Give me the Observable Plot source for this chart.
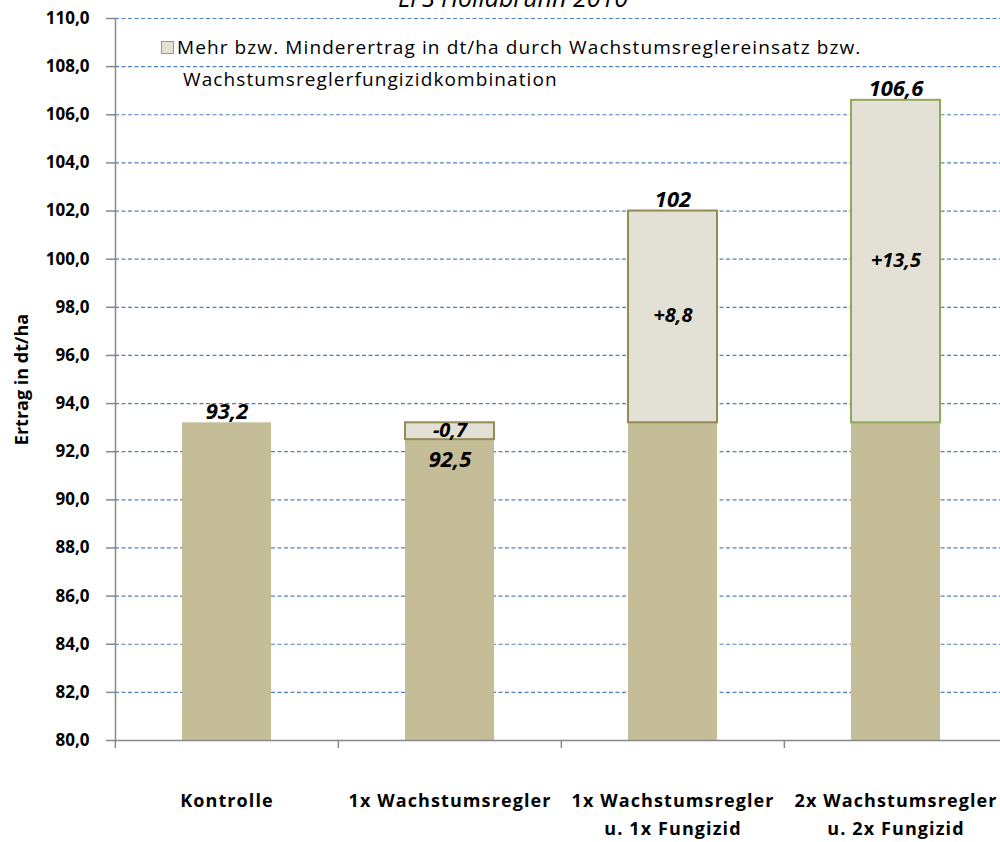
<!DOCTYPE html>
<html>
<head>
<meta charset="utf-8">
<script src="https://cdn.jsdelivr.net/npm/d3@7"></script>
<script src="https://cdn.jsdelivr.net/npm/@observablehq/plot@0.6"></script>
<style>
  html, body { margin: 0; padding: 0; background: #fff; }
  #wrap { position: relative; width: 1000px; height: 842px; overflow: hidden; }
  #title { position: absolute; left: 0; width: 1026px; top: -20px; text-align: center; font: italic 25px "Open Sans", sans-serif; color: #000; }
  .leg { position: absolute; font: 19px "Open Sans", sans-serif; letter-spacing: 1.1px; color: #000; white-space: nowrap; }
  .sw { display: inline-block; width: 11px; height: 11px; background: #E3E1D5; border: 1.5px solid #7F9CC8; vertical-align: 0px; margin-right: 3px; }
  #chart svg g[aria-label="x-axis tick label"] text { letter-spacing: 1.1px; }
</style>
</head>
<body>
<div id="wrap">
  <div id="chart"></div>
  <div id="title"></div>
  <div class="leg" id="leg1" style="left:161px; top:34px;"></div>
  <div class="leg" id="leg2" style="left:183px; top:66px;"></div>
</div>
<script>
const titleText = "LFS Hollabrunn 2010";
const legendLine1 = "Mehr bzw. Minderertrag in dt/ha durch Wachstumsreglereinsatz bzw.";
const legendLine2 = "Wachstumsreglerfungizidkombination";
const yLabel = "Ertrag in dt/ha";

const categories = [
  "Kontrolle",
  "1x Wachstumsregler",
  "1x Wachstumsregler\nu. 1x Fungizid",
  "2x Wachstumsregler\nu. 2x Fungizid"
];
const ertrag = [93.2, 92.5, 102, 106.6];
const kontrolle = 93.2;
const differenz = [null, -0.7, 8.8, 13.5];
const ertragLabels = ["93,2", "92,5", "102", "106,6"];
const differenzLabels = [null, "-0,7", "+8,8", "+13,5"];
const yTicks = d3.range(80, 110.001, 2);
const borderColors = [null, "#948A54", "#948A54", "#8FA85A"];

const rows = categories.map((c, i) => ({
  cat: c,
  ertrag: ertrag[i],
  base: Math.min(ertrag[i], kontrolle),
  diff: differenz[i],
  lo: Math.min(ertrag[i], kontrolle),
  hi: Math.max(ertrag[i], kontrolle),
  mid: (ertrag[i] + kontrolle) / 2,
  label: ertragLabels[i],
  diffLabel: differenzLabels[i],
  border: borderColors[i]
}));
const diffRows = rows.filter(d => d.diff !== null);

const fmt = d => d.toFixed(1).replace(".", ",");
const xRange = [115, 1008];
const step = (xRange[1] - xRange[0]) / categories.length;
const font = '"Open Sans", sans-serif';

document.getElementById("title").textContent = titleText;
document.getElementById("leg1").innerHTML = '<span class="sw"></span>' + legendLine1;
document.getElementById("leg2").textContent = legendLine2;

const chart = Plot.plot({
  width: 1000,
  height: 842,
  marginTop: 18,
  marginBottom: 102,
  marginLeft: 115,
  marginRight: 0,
  style: { fontFamily: font, background: "white" },
  x: { type: "band", domain: categories, range: xRange, paddingInner: 0.6, paddingOuter: 0.3, align: 0.5 },
  y: { type: "linear", domain: [80, 110] },
  marks: [
    Plot.gridY(yTicks.filter(t => t > 80), { stroke: "#4F81BD", strokeOpacity: 1, strokeDasharray: "4,2.5", strokeWidth: 1.2 }),
    Plot.barY(rows, { x: "cat", y1: () => 80, y2: "base", fill: "#C4BD97" }),
    Plot.barY(diffRows, { x: "cat", y1: "lo", y2: "hi", fill: "#E3E1D5", stroke: "border", strokeWidth: 2 }),
    Plot.axisY(yTicks, { tickFormat: fmt, tickSize: 9, tickPadding: 17, stroke: "#888", strokeWidth: 1.5, fontSize: 17, fontWeight: "bold", fill: "#000", label: null }),
    Plot.ruleY([80], { stroke: "#888", strokeWidth: 1.5 }),
    Plot.frame({ anchor: "left", stroke: "#888", strokeWidth: 1.5 }),
    Plot.ruleX(categories, { x: d => d, dx: -step / 2, y1: () => 80, y2: () => 80, insetBottom: -8, stroke: "#888", strokeWidth: 1.5 }),
    Plot.axisX({ tickSize: 0, tickPadding: 47, fontSize: 18, fontWeight: "bold", lineHeight: 1.55, fill: "#000", label: null }),
    Plot.text([yLabel], { frameAnchor: "left", textAnchor: "middle", dx: -93, rotate: -90, fontSize: 18, fontWeight: "bold", fill: "#000" }),
    Plot.text(rows.filter(d => !(d.diff < 0)), { x: "cat", y: "ertrag", text: "label", lineAnchor: "bottom", dy: -4, fontSize: 22, fontWeight: "bold", fontStyle: "italic", fill: "#000" }),
    Plot.text(rows.filter(d => d.diff < 0), { x: "cat", y: "ertrag", text: "label", lineAnchor: "top", dy: 12, fontSize: 22, fontWeight: "bold", fontStyle: "italic", fill: "#000" }),
    Plot.text(diffRows, { x: "cat", y: "mid", text: "diffLabel", dy: -1, fontSize: 20, fontWeight: "bold", fontStyle: "italic", fill: "#000" })
  ]
});
document.getElementById("chart").append(chart);
</script>
</body>
</html>
